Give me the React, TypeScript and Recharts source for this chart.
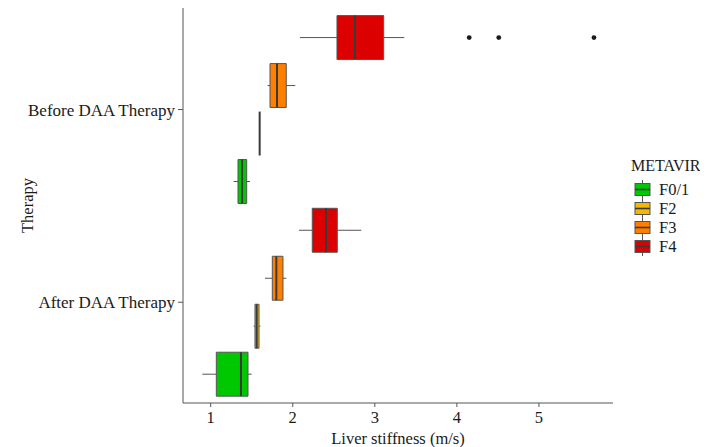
import React from "react";
import {
  ScatterChart,
  Scatter,
  XAxis,
  YAxis,
  ReferenceArea,
  ReferenceLine,
} from "recharts";

const groups = ["F0/1", "F2", "F3", "F4"];
const groupColors = ["#00C800", "#F5B800", "#FF7F00", "#DD0000"];
const therapies = ["After DAA Therapy", "Before DAA Therapy"];
const therapyPos = [1, 2];

const beforeLower = [1.28, 1.597, 1.694, 2.088];
const beforeQ1 = [1.333, 1.597, 1.723, 2.539];
const beforeMedian = [1.382, 1.597, 1.808, 2.758];
const beforeQ3 = [1.439, 1.597, 1.921, 3.108];
const beforeUpper = [1.479, 1.597, 2.031, 3.359];

const afterLower = [0.898, 1.524, 1.662, 2.076];
const afterQ1 = [1.069, 1.54, 1.751, 2.238];
const afterMedian = [1.369, 1.561, 1.8, 2.405];
const afterQ3 = [1.455, 1.589, 1.881, 2.543];
const afterUpper = [1.5, 1.605, 1.921, 2.835];

const beforeF4Outliers = [4.15, 4.51, 5.67];
const xTicks = [1, 2, 3, 4, 5];

const FONT = "'Liberation Serif', 'Times New Roman', serif";
const DODGE = 0.249;
const HALF = 0.114;
const BORDER = "#555555";
const MEDIAN = "#3a3a3a";

type Box = {
  key: string;
  y: number;
  lower: number;
  q1: number;
  med: number;
  q3: number;
  upper: number;
  color: string;
};

const boxes: Box[] = [];
[
  { t: 0, lo: afterLower, a: afterQ1, m: afterMedian, b: afterQ3, hi: afterUpper },
  { t: 1, lo: beforeLower, a: beforeQ1, m: beforeMedian, b: beforeQ3, hi: beforeUpper },
].forEach((s) => {
  groups.forEach((g, i) => {
    boxes.push({
      key: `${s.t}-${g}`,
      y: therapyPos[s.t] + (i - 1.5) * DODGE,
      lower: s.lo[i],
      q1: s.a[i],
      med: s.m[i],
      q3: s.b[i],
      upper: s.hi[i],
      color: groupColors[i],
    });
  });
});

const outlierData = beforeF4Outliers.map((x) => ({
  x,
  y: therapyPos[1] + (3 - 1.5) * DODGE,
}));

const YTitle = (props: any) => {
  const vb = props.viewBox || {};
  const cx = 19;
  const cy = (vb.y || 0) + (vb.height || 0) / 2;
  return (
    <text
      x={cx}
      y={cy}
      transform={`rotate(-90 ${cx} ${cy})`}
      textAnchor="middle"
      dominantBaseline="central"
      fontFamily={FONT}
      fontSize={16.5}
      fill="#1a1a1a"
    >
      Therapy
    </text>
  );
};

const XTitle = (props: any) => {
  const vb = props.viewBox || {};
  return (
    <text
      x={(vb.x || 0) + (vb.width || 0) / 2}
      y={(vb.y || 0) + 41}
      textAnchor="middle"
      fontFamily={FONT}
      fontSize={16.5}
      fill="#1a1a1a"
    >
      Liver stiffness (m/s)
    </text>
  );
};

const LegendKey = ({ color }: { color: string }) => (
  <svg width={17} height={19} style={{ display: "block" }}>
    <line x1={8.5} y1={0} x2={8.5} y2={19} stroke={BORDER} strokeWidth={1} />
    <rect x={1} y={3.5} width={15} height={12} fill={color} stroke={BORDER} strokeWidth={1} />
    <line x1={1} y1={9.5} x2={16} y2={9.5} stroke={MEDIAN} strokeWidth={1.6} />
  </svg>
);

export default function App() {
  return (
    <div style={{ position: "relative", width: 700, height: 439 }}>
      <ScatterChart
        width={700}
        height={439}
        margin={{ top: 0, right: 95, bottom: 0, left: 0 }}
      >
        <XAxis
          type="number"
          dataKey="x"
          domain={[0.663, 5.902]}
          allowDataOverflow
          ticks={xTicks}
          height={44}
          tickSize={4}
          tickMargin={4}
          stroke="#555"
          tick={{ fill: "#1a1a1a", fontSize: 16.5, fontFamily: FONT }}
          label={<XTitle />}
        />
        <YAxis
          type="number"
          dataKey="y"
          domain={[0.477, 2.527]}
          allowDataOverflow
          ticks={therapyPos}
          tickFormatter={(v: number) => therapies[therapyPos.indexOf(v)] ?? ""}
          width={175}
          tickSize={5}
          tickMargin={3}
          stroke="#555"
          tick={{ fill: "#1a1a1a", fontSize: 17, fontFamily: FONT }}
          label={<YTitle />}
        />
        {boxes.map((b) => (
          <ReferenceLine
            key={`wl-${b.key}`}
            segment={[
              { x: b.lower, y: b.y },
              { x: b.q1, y: b.y },
            ]}
            stroke={BORDER}
            strokeWidth={1}
            ifOverflow="visible"
          />
        ))}
        {boxes.map((b) => (
          <ReferenceLine
            key={`wr-${b.key}`}
            segment={[
              { x: b.q3, y: b.y },
              { x: b.upper, y: b.y },
            ]}
            stroke={BORDER}
            strokeWidth={1}
            ifOverflow="visible"
          />
        ))}
        {boxes
          .filter((b) => b.q3 > b.q1)
          .map((b) => (
            <ReferenceArea
              key={`box-${b.key}`}
              x1={b.q1}
              x2={b.q3}
              y1={b.y - HALF}
              y2={b.y + HALF}
              fill={b.color}
              fillOpacity={1}
              stroke={BORDER}
              strokeWidth={1}
              ifOverflow="visible"
            />
          ))}
        {boxes.map((b) => (
          <ReferenceLine
            key={`med-${b.key}`}
            segment={[
              { x: b.med, y: b.y - HALF },
              { x: b.med, y: b.y + HALF },
            ]}
            stroke={MEDIAN}
            strokeWidth={2}
            ifOverflow="visible"
          />
        ))}
        <Scatter
          data={outlierData}
          fill="#1a1a1a"
          isAnimationActive={false}
          shape={(p: any) => <circle cx={p.cx} cy={p.cy} r={2.4} fill="#1a1a1a" />}
        />
      </ScatterChart>
      <div
        style={{
          position: "absolute",
          left: 623,
          top: 148,
          fontFamily: FONT,
          fontSize: 16,
          color: "#1a1a1a",
          lineHeight: "19px",
          whiteSpace: "nowrap",
        }}
      >
        <div style={{ marginBottom: 5 }}>METAVIR</div>
        {groups.map((g, i) => (
          <div key={g} style={{ display: "flex", alignItems: "center", height: 19 }}>
            <div style={{ marginLeft: 3, marginRight: 8 }}>
              <LegendKey color={groupColors[i]} />
            </div>
            <span style={{ fontSize: 16.5 }}>{g}</span>
          </div>
        ))}
      </div>
    </div>
  );
}
